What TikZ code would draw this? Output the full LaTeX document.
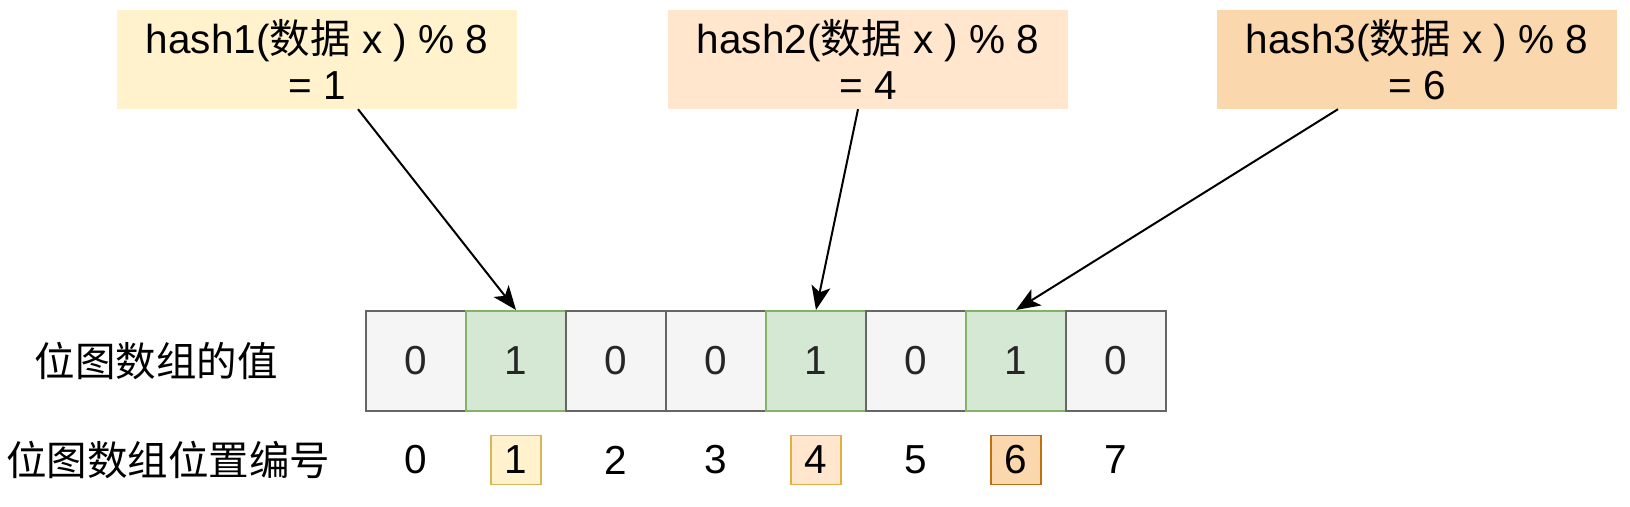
\documentclass[tikz,border=0pt]{standalone}
\usepackage{fontspec}
\setmainfont{Liberation Sans}
\newfontfamily\cjk{Noto Sans CJK SC}
\usetikzlibrary{arrows.meta,positioning}

\definecolor{hashA}{HTML}{FFF2CC}
\definecolor{hashB}{HTML}{FFE6CC}
\definecolor{hashC}{HTML}{FAD7AC}
\definecolor{lineA}{HTML}{D6B656}
\definecolor{lineB}{HTML}{E0B040}
\definecolor{lineC}{HTML}{C07010}
\definecolor{cellgray}{HTML}{F5F5F5}
\definecolor{cellline}{HTML}{666666}
\definecolor{cellgreen}{HTML}{D5E8D4}
\definecolor{greenline}{HTML}{82B366}

\tikzset{
  txt/.style={font=\fontsize{40.5}{45.5}\selectfont, inner sep=0pt},
  hashbox/.style={txt, minimum width=400pt, minimum height=99pt, align=center},
  cell0/.style={txt, draw=cellline, fill=cellgray, line width=2pt, minimum width=100pt, minimum height=100pt, text=black!85},
  cell1/.style={txt, draw=greenline, fill=cellgreen, line width=2pt, minimum width=100pt, minimum height=100pt, text=black!85},
  idx/.style={txt, minimum width=50pt, minimum height=49pt},
  arr/.style={line width=2pt, -{Stealth[length=24pt, width=19pt, inset=6pt]}}
}

\begin{document}
\begin{tikzpicture}[x=1pt, y=1pt]
  \useasboundingbox (0,0) rectangle (1630,506);

  %%%%% hash boxes %%%%%
  \node[hashbox, fill=hashA] (h1) at (317,446.5) {hash1({\cjk 数据} x ) \% 8\\= 1};
  \node[hashbox, fill=hashB] (h2) at (868,446.5) {hash2({\cjk 数据} x ) \% 8\\= 4};
  \node[hashbox, fill=hashC] (h3) at (1417,446.5) {hash3({\cjk 数据} x ) \% 8\\= 6};

  %%%%% bit array %%%%%
  \foreach \v [count=\i from 0] in {0,1,0,0,1,0,1,0}
    \node[cell\v] (c\i) at (416+100*\i,145) {\v};

  %%%%% positions %%%%%
  \node[idx] (n0) at (416,46) {0};
  \node[idx, draw=lineA, fill=hashA, line width=1.5pt] (n1) at (516,46) {1};
  \node[idx] (n2) at (616,46) {2};
  \node[idx] (n3) at (716,46) {3};
  \node[idx, draw=lineB, fill=hashB, line width=1.5pt] (n4) at (816,46) {4};
  \node[idx] (n5) at (916,46) {5};
  \node[idx, draw=lineC, fill=hashC, line width=1.5pt] (n6) at (1016,46) {6};
  \node[idx] (n7) at (1116,46) {7};

  %%%%% labels %%%%%
  \node[txt] (lval) at (156,145) {\cjk 位图数组的值};
  \node[txt] (lpos) at (168,46) {\cjk 位图数组位置编号};

  %%%%% arrows %%%%%
  \draw[arr] ([xshift=41pt]h1.south) -- (c1.north);
  \draw[arr] ([xshift=-10pt]h2.south) -- (c4.north);
  \draw[arr] ([xshift=-79pt]h3.south) -- (c6.north);
\end{tikzpicture}
\end{document}
